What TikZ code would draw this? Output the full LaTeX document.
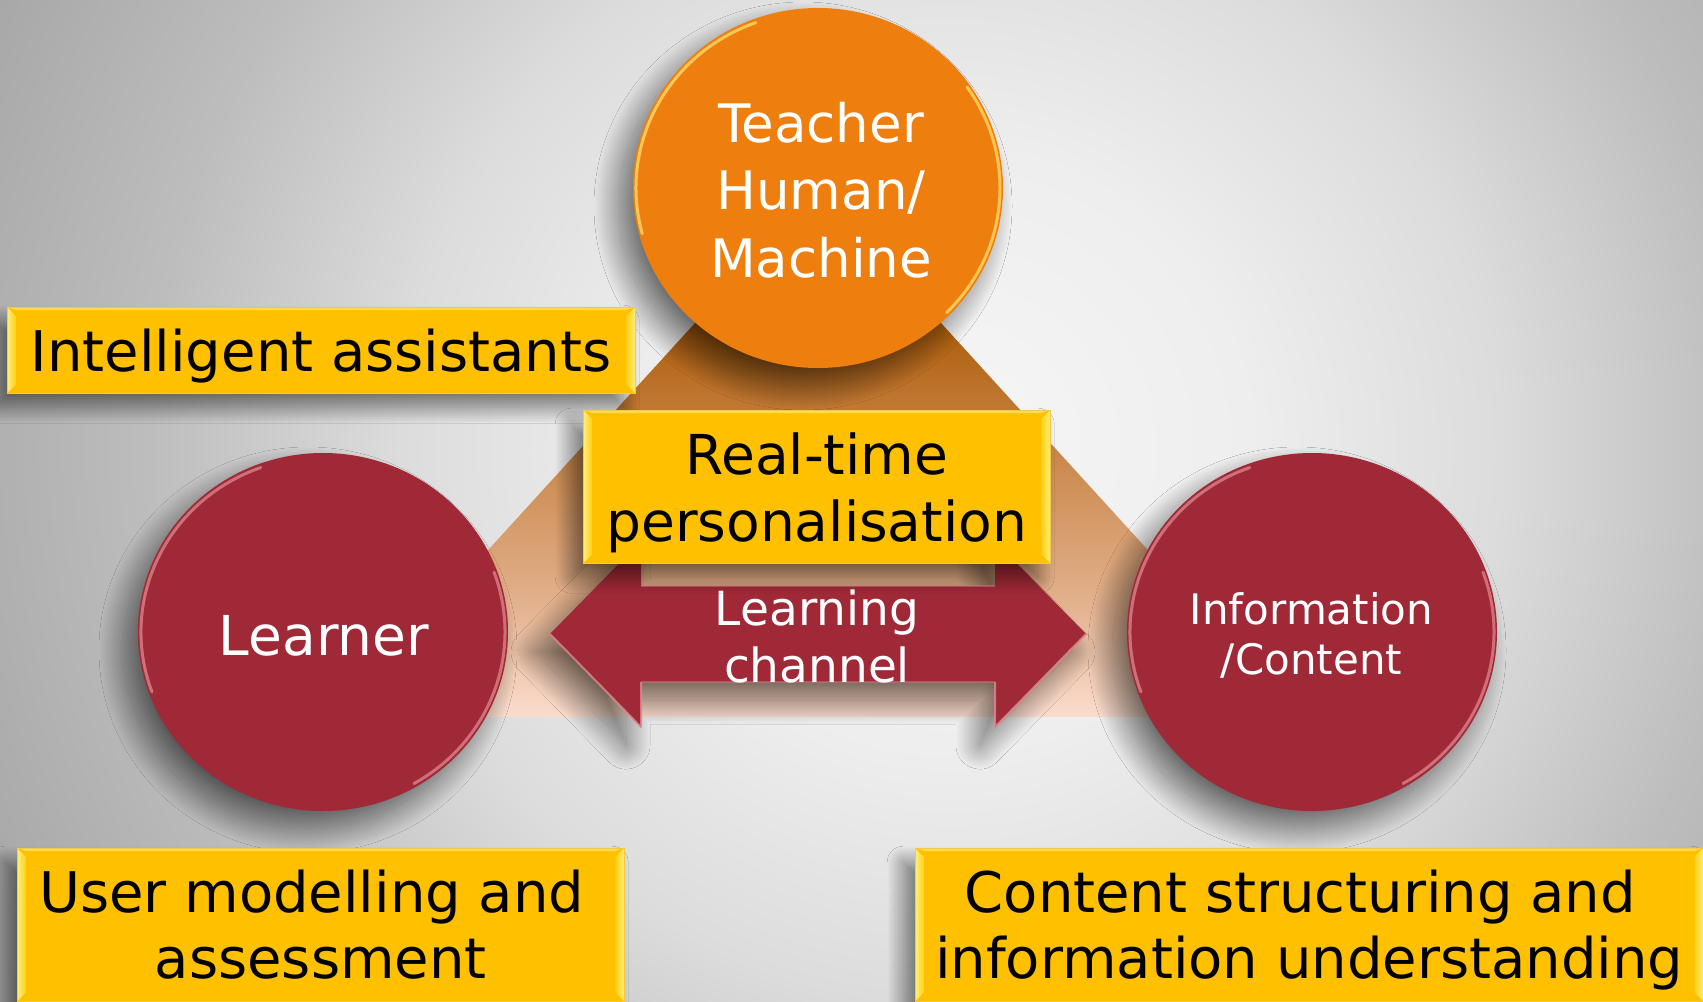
\documentclass[tikz,border=0pt]{standalone}
\usepackage{fontspec}
\setmainfont{DejaVu Sans}
\usetikzlibrary{shapes.geometric,shadows.blur}
\definecolor{orangeC}{HTML}{EE7F0E}
\definecolor{orangeRim}{HTML}{FFD966}
\definecolor{redC}{HTML}{9F2936}
\definecolor{redRim}{HTML}{E08890}
\definecolor{yellowC}{HTML}{FFC000}
\definecolor{bevA}{HTML}{FFF07A}
\definecolor{bevB}{HTML}{FFCF1A}
\definecolor{boxLine}{HTML}{F2C94C}
\definecolor{bgA}{HTML}{F6F6F6}
\definecolor{bgB}{HTML}{EEEEEE}
\definecolor{bgC}{HTML}{DCDCDC}
\definecolor{bgD}{HTML}{BDBDBD}
\definecolor{bgE}{HTML}{A8A8A8}
\definecolor{bgF}{HTML}{A0A0A0}
\definecolor{triTop}{HTML}{8A4200}
\definecolor{triE}{HTML}{B0600E}
\definecolor{triD}{HTML}{CD8C52}
\definecolor{triC}{HTML}{E2B08C}
\definecolor{triBot}{HTML}{FADCCD}
\pgfdeclareradialshading{bgshade}{\pgfpoint{0bp}{0bp}}{color(0bp)=(bgA); color(300bp)=(bgB); color(550bp)=(bgC); color(800bp)=(bgD); color(1050bp)=(bgE); color(1400bp)=(bgF)}
\pgfdeclareverticalshading{trishade}{1000bp}{color(0bp)=(triBot); color(117bp)=(triC); color(247bp)=(triD); color(387bp)=(triE); color(529bp)=(triTop)}
\newcommand{\bevelbox}[1]{%
  \shade[left color=bevA, right color=bevB] (#1.north west) -- ([shift={(9,9)}]#1.north west) -- ([shift={(9,-9)}]#1.south west) -- (#1.south west) -- cycle;
  \shade[left color=bevB, right color=bevA] (#1.north east) -- ([shift={(-9,9)}]#1.north east) -- ([shift={(-9,-9)}]#1.south east) -- (#1.south east) -- cycle;
  \fill[bevA, opacity=0.6] (#1.north west) -- (#1.north east) -- ([shift={(-9,3)}]#1.north east) -- ([shift={(9,3)}]#1.north west) -- cycle;
  \draw[boxLine, line width=1bp] (#1.north west) rectangle (#1.south east);
}
\begin{document}
\begin{tikzpicture}[x=1bp, y=-1bp,
  softshadow/.style={blur shadow={shadow xshift=-15bp, shadow yshift=-18bp, shadow blur radius=24bp, shadow blur steps=40, shadow opacity=55}},
  boxshadow/.style={blur shadow={shadow xshift=-12bp, shadow yshift=-14bp, shadow blur radius=16bp, shadow blur steps=30, shadow opacity=50}},
  ybox/.style={rectangle, fill=yellowC, inner sep=0pt, anchor=north west, align=center, text=black, text depth=0pt, boxshadow},
  redcirc/.style={ellipse, fill=redC, minimum width=370bp, minimum height=358bp, inner sep=0pt, softshadow},
  orangecirc/.style={ellipse, fill=orangeC, minimum width=370bp, minimum height=360bp, inner sep=0pt, softshadow},
  whitetext/.style={text=white, align=center, inner sep=0pt, text depth=0pt},
  redrim/.style={redRim, line width=3bp, line cap=round, opacity=0.75},
  orangerim/.style={orangeRim, line width=3bp, line cap=round, opacity=0.8}
]
\clip (0,0) rectangle (1703,1001);
% background
\fill[bgF] (0,0) rectangle (1703,1001);
\node[inner sep=0pt] (bg) at (950,450) {\pgfuseshading{bgshade}};

% triangle
\begin{scope}
\clip (818,188) -- (336,717) -- (1300,717) -- cycle;
\node[inner sep=0pt, anchor=south] (tri) at (818,717) {\pgfuseshading{trishade}};
\end{scope}

% double arrow
\coordinate (ltip) at (550,634);
\coordinate (rtip) at (1086,634);
\fill[redC, softshadow] (ltip) -- (641,541) -- (641,586) -- (995,586) -- (995,541) -- (rtip) -- (995,727) -- (995,682) -- (641,682) -- (641,727) -- cycle;
\draw[redRim, line width=2bp, opacity=0.8, line join=round] (ltip) -- (641,727) -- (641,682);
\draw[redRim, line width=2bp, opacity=0.8, line join=round] (rtip) -- (995,727) -- (995,682);
\draw[redRim, line width=1.5bp, opacity=0.5] (641,586) -- (995,586);
\draw[redRim, line width=1.5bp, opacity=0.4] (641,682) -- (995,682);
\node[whitetext, font=\fontsize{47bp}{57bp}\selectfont] (chan) at (817,636) {Learning\\channel};

% circles
\node[orangecirc] (teacher) at (818,188) {};
\draw[orangerim] (818,188) ++(-35:182 and 176) arc[start angle=-35, end angle=45, x radius=182, y radius=176];
\draw[orangerim] (818,188) ++(165:182 and 176) arc[start angle=165, end angle=250, x radius=182, y radius=176];
\node[whitetext, font=\fontsize{53bp}{67.5bp}\selectfont] (teacherTxt) at (821,189.5) {Teacher\\Human/\\Machine};

\node[redcirc] (learner) at (323,632) {};
\draw[redrim] (323,632) ++(-20:182 and 175) arc[start angle=-20, end angle=60, x radius=182, y radius=175];
\draw[redrim] (323,632) ++(160:182 and 175) arc[start angle=160, end angle=250, x radius=182, y radius=175];
\node[whitetext, font=\fontsize{55bp}{66bp}\selectfont] (learnerTxt) at (324,635) {Learner};

\node[redcirc] (info) at (1312,632) {};
\draw[redrim] (1312,632) ++(-20:182 and 175) arc[start angle=-20, end angle=60, x radius=182, y radius=175];
\draw[redrim] (1312,632) ++(160:182 and 175) arc[start angle=160, end angle=250, x radius=182, y radius=175];
\node[whitetext, font=\fontsize{42bp}{50bp}\selectfont] (infoTxt) at (1311.5,634) {Information\\/Content};

% yellow boxes
\node[ybox, minimum width=628bp, minimum height=86bp, font=\fontsize{56bp}{66bp}\selectfont] (ia) at (7,307) {Intelligent assistants};
\bevelbox{ia}
\node[ybox, minimum width=467bp, minimum height=153bp, font=\fontsize{55bp}{67bp}\selectfont] (rt) at (583,410) {Real-time\\personalisation};
\bevelbox{rt}
\node[ybox, minimum width=607bp, minimum height=153bp, font=\fontsize{56bp}{66bp}\selectfont] (um) at (17,848) {User modelling and\kern.32em\\assessment};
\bevelbox{um}
\node[ybox, minimum width=788bp, minimum height=153bp, font=\fontsize{56bp}{66bp}\selectfont] (cs) at (915,848) {Content structuring and\kern.32em\\information understanding};
\bevelbox{cs}
\end{tikzpicture}
\end{document}
